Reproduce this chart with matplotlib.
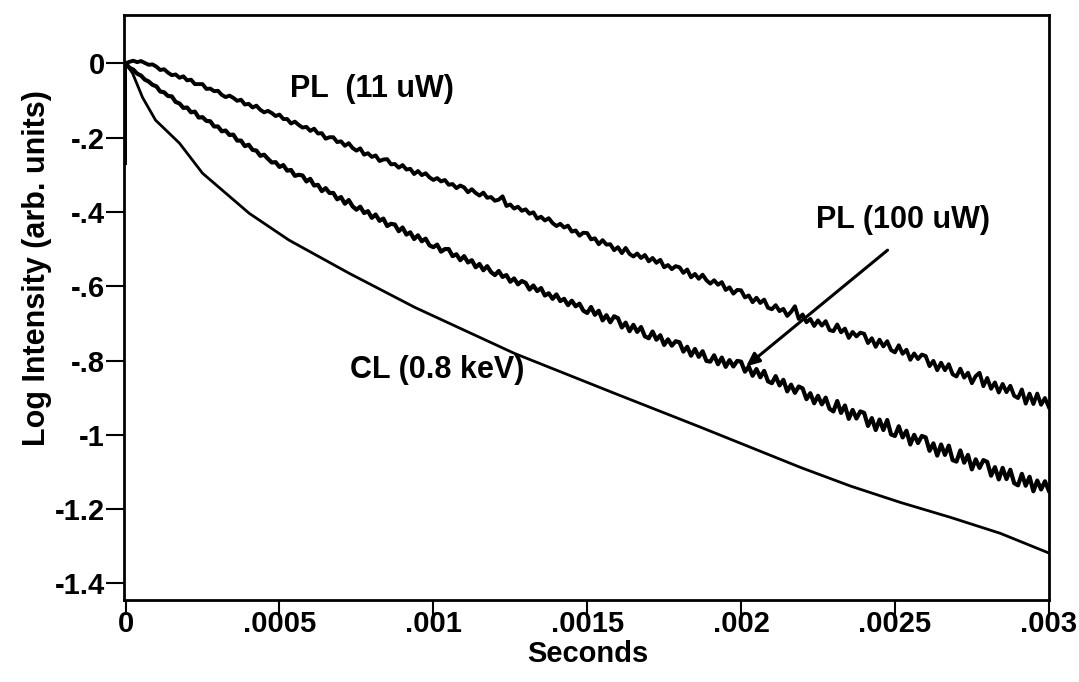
import numpy as np
import matplotlib
matplotlib.use('Agg')
import matplotlib.pyplot as plt

plt.rcParams['font.family'] = ['Liberation Sans', 'DejaVu Sans']
plt.rcParams['font.weight'] = 'bold'

t_pl = np.linspace(0, 0.003, 241)
pl_11 = [
    0.000, 0.004, 0.007, 0.003, 0.006, 0.001, -0.004, -0.003,
    -0.009, -0.018, -0.016, -0.025, -0.032, -0.030, -0.039, -0.035,
    -0.046, -0.044, -0.056, -0.056, -0.056, -0.069, -0.068, -0.075,
    -0.074, -0.085, -0.091, -0.087, -0.093, -0.101, -0.098, -0.111,
    -0.109, -0.119, -0.114, -0.125, -0.132, -0.128, -0.134, -0.142,
    -0.138, -0.150, -0.150, -0.162, -0.157, -0.166, -0.173, -0.171,
    -0.182, -0.176, -0.189, -0.188, -0.203, -0.199, -0.199, -0.212,
    -0.210, -0.222, -0.215, -0.228, -0.235, -0.229, -0.246, -0.242,
    -0.252, -0.248, -0.263, -0.259, -0.258, -0.272, -0.271, -0.281,
    -0.274, -0.286, -0.284, -0.298, -0.290, -0.301, -0.296, -0.307,
    -0.314, -0.309, -0.318, -0.314, -0.327, -0.325, -0.336, -0.329,
    -0.334, -0.347, -0.339, -0.349, -0.356, -0.348, -0.362, -0.360,
    -0.370, -0.367, -0.358, -0.384, -0.380, -0.391, -0.386, -0.397,
    -0.393, -0.405, -0.401, -0.418, -0.413, -0.423, -0.417, -0.430,
    -0.438, -0.432, -0.442, -0.437, -0.453, -0.450, -0.464, -0.456,
    -0.457, -0.474, -0.471, -0.487, -0.476, -0.488, -0.487, -0.503,
    -0.495, -0.511, -0.497, -0.513, -0.520, -0.512, -0.524, -0.516,
    -0.533, -0.524, -0.537, -0.529, -0.549, -0.543, -0.554, -0.546,
    -0.549, -0.564, -0.555, -0.576, -0.567, -0.580, -0.569, -0.584,
    -0.593, -0.584, -0.596, -0.589, -0.610, -0.603, -0.620, -0.610,
    -0.611, -0.630, -0.625, -0.643, -0.631, -0.645, -0.636, -0.658,
    -0.662, -0.651, -0.667, -0.661, -0.680, -0.669, -0.654, -0.688,
    -0.676, -0.697, -0.688, -0.707, -0.692, -0.706, -0.694, -0.718,
    -0.721, -0.703, -0.724, -0.714, -0.739, -0.723, -0.735, -0.725,
    -0.728, -0.753, -0.740, -0.763, -0.744, -0.762, -0.748, -0.772,
    -0.778, -0.759, -0.782, -0.771, -0.798, -0.781, -0.796, -0.784,
    -0.788, -0.815, -0.801, -0.826, -0.806, -0.826, -0.810, -0.837,
    -0.843, -0.822, -0.846, -0.833, -0.861, -0.842, -0.833, -0.869,
    -0.847, -0.876, -0.859, -0.886, -0.863, -0.885, -0.868, -0.895,
    -0.901, -0.878, -0.916, -0.889, -0.917, -0.889, -0.919, -0.901,
    -0.925]
pl_100 = [
    0.000, -0.012, -0.017, -0.028, -0.033, -0.044, -0.049, -0.058,
    -0.062, -0.076, -0.078, -0.088, -0.089, -0.104, -0.108, -0.120,
    -0.119, -0.132, -0.130, -0.146, -0.145, -0.155, -0.156, -0.170,
    -0.170, -0.183, -0.181, -0.193, -0.192, -0.208, -0.208, -0.223,
    -0.219, -0.233, -0.235, -0.249, -0.246, -0.257, -0.267, -0.266,
    -0.279, -0.274, -0.289, -0.287, -0.303, -0.300, -0.302, -0.318,
    -0.311, -0.329, -0.327, -0.344, -0.336, -0.349, -0.349, -0.366,
    -0.360, -0.378, -0.368, -0.385, -0.394, -0.386, -0.403, -0.398,
    -0.416, -0.407, -0.424, -0.418, -0.438, -0.432, -0.434, -0.452,
    -0.442, -0.461, -0.455, -0.473, -0.463, -0.479, -0.472, -0.490,
    -0.495, -0.488, -0.507, -0.500, -0.500, -0.519, -0.514, -0.530,
    -0.519, -0.536, -0.530, -0.549, -0.540, -0.557, -0.546, -0.562,
    -0.570, -0.559, -0.575, -0.570, -0.588, -0.579, -0.595, -0.586,
    -0.591, -0.609, -0.598, -0.613, -0.605, -0.625, -0.619, -0.634,
    -0.622, -0.640, -0.634, -0.651, -0.639, -0.654, -0.647, -0.666,
    -0.672, -0.656, -0.677, -0.666, -0.692, -0.678, -0.697, -0.681,
    -0.686, -0.711, -0.698, -0.721, -0.704, -0.723, -0.710, -0.735,
    -0.740, -0.722, -0.744, -0.732, -0.758, -0.743, -0.760, -0.748,
    -0.751, -0.776, -0.763, -0.787, -0.769, -0.790, -0.775, -0.801,
    -0.803, -0.786, -0.810, -0.792, -0.817, -0.799, -0.816, -0.801,
    -0.803, -0.830, -0.816, -0.841, -0.823, -0.845, -0.828, -0.856,
    -0.861, -0.842, -0.867, -0.852, -0.883, -0.865, -0.887, -0.870,
    -0.875, -0.904, -0.888, -0.915, -0.895, -0.918, -0.900, -0.930,
    -0.937, -0.909, -0.941, -0.921, -0.957, -0.933, -0.956, -0.937,
    -0.941, -0.976, -0.955, -0.987, -0.959, -0.987, -0.960, -0.999,
    -1.003, -0.977, -1.007, -0.989, -1.026, -1.000, -1.022, -1.003,
    -1.007, -1.043, -1.023, -1.056, -1.026, -1.054, -1.029, -1.068,
    -1.072, -1.042, -1.075, -1.054, -1.093, -1.066, -1.089, -1.068,
    -1.073, -1.110, -1.087, -1.120, -1.089, -1.119, -1.094, -1.130,
    -1.136, -1.105, -1.137, -1.113, -1.152, -1.123, -1.147, -1.125,
    -1.150]

# CL trace (smooth)
cl_t = [0, 0, 0.0000227, 0.000055, 0.0000972, 0.000175, 0.00025, 0.000402, 0.000531,
        0.000726, 0.00094, 0.001264, 0.001588, 0.00187, 0.002032, 0.002194, 0.002356,
        0.002518, 0.00268, 0.002842, 0.003]
cl_y = [-0.27, 0.0, -0.027, -0.092, -0.153, -0.215, -0.296, -0.404, -0.476,
        -0.565, -0.657, -0.781, -0.888, -0.980, -1.034, -1.088, -1.138,
        -1.182, -1.222, -1.265, -1.318]

xticks = [0, 0.0005, 0.001, 0.0015, 0.002, 0.0025, 0.003]
xticklabels = ['0', '.0005', '.001', '.0015', '.002', '.0025', '.003']
yticks = [0, -0.2, -0.4, -0.6, -0.8, -1.0, -1.2, -1.4]
yticklabels = ['0', '-.2', '-.4', '-.6', '-.8', '-1', '-1.2', '-1.4']

fig = plt.figure(figsize=(10.79, 6.82), dpi=100)
ax = fig.add_axes([0.115, 0.12, 0.857, 0.858])

# noisy PL traces drawn heavy so they read as a rough band
ax.plot(t_pl, pl_11, color='black', lw=2.8)
ax.plot(t_pl, pl_100, color='black', lw=3.0)
ax.plot(cl_t, cl_y, color='black', lw=2.0)

ax.set_xlim(-0.000005, 0.003)
ax.set_ylim(-1.445, 0.13)

ax.set_xticks(xticks)
ax.set_xticklabels(xticklabels, fontsize=21, fontweight='bold')
ax.set_yticks(yticks)
ax.set_yticklabels(yticklabels, fontsize=21, fontweight='bold')
ax.tick_params(axis='x', direction='out', length=11, width=1.5, pad=-4)
ax.tick_params(axis='y', direction='out', length=13, width=1.5, pad=1)
for s in ax.spines.values():
    s.set_linewidth(2)

fig.text(0.545, 20 / 682, 'Seconds', ha='center', va='baseline', fontsize=21, fontweight='bold')
fig.text(0.0343, 1 - 268 / 682, 'Log Intensity (arb. units)', rotation=90,
         ha='center', va='center', fontsize=22, fontweight='bold')

ax.text(0.000535, -0.07, 'PL  (11 uW)', ha='left', va='center', fontsize=22, fontweight='bold')
ax.text(0.002242, -0.423, 'PL (100 uW)', ha='left', va='center', fontsize=22, fontweight='bold')
ax.text(0.000729, -0.826, 'CL (0.8 keV)', ha='left', va='center', fontsize=22, fontweight='bold')

ax.annotate('', xy=(0.002016, -0.816), xytext=(0.002476, -0.503),
            arrowprops=dict(arrowstyle='-|>,head_length=0.8,head_width=0.35',
                            color='black', lw=2.2, shrinkA=0, shrinkB=0))

fig.savefig('out.png', dpi=100)
